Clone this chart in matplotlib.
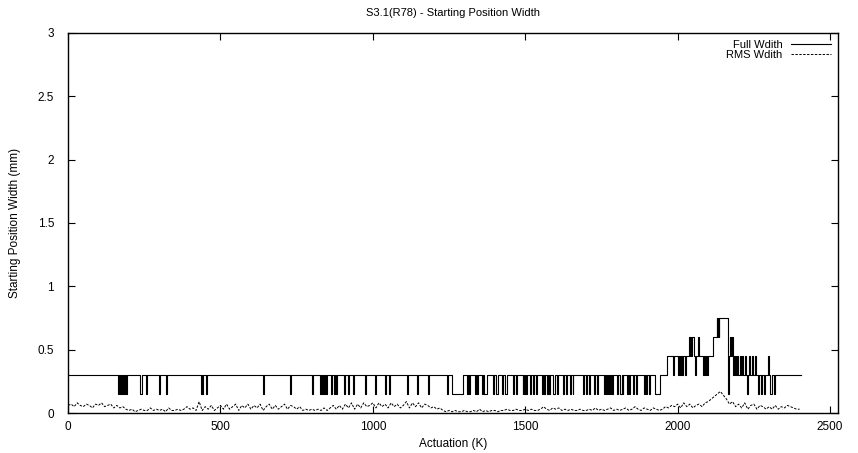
#!/usr/bin/env python

import numpy as np
import matplotlib
matplotlib.use('Agg')
import matplotlib.pyplot as plt

plt.rcParams['font.family'] = ['Liberation Sans', 'DejaVu Sans']

# Full width: value changes (actuation K, width mm), held until the next change
fw_x = [0, 164, 167, 170, 174, 177, 179, 183, 186, 190, 193,
        237, 241, 255, 259, 298, 302, 321, 325,
        436, 439, 441, 444, 451, 455,
        640, 643, 728, 731, 799, 802,
        827, 830, 833, 836, 839, 843, 847, 850,
        862, 866, 872, 875, 879, 882,
        904, 907, 920, 923, 936, 939, 974, 977,
        1007, 1010, 1040, 1043, 1054, 1057, 1112, 1115,
        1144, 1147, 1181, 1184, 1242, 1245, 1259, 1296,
        1308, 1311, 1316, 1319, 1335, 1338, 1343, 1346,
        1357, 1361, 1366, 1374, 1395, 1399, 1405, 1412,
        1423, 1427, 1434, 1439, 1460, 1463, 1469, 1472,
        1492, 1494, 1496, 1498, 1500, 1502, 1504, 1506,
        1516, 1520, 1527, 1530, 1535, 1538,
        1554, 1558, 1563, 1566, 1572, 1575, 1578, 1581,
        1592, 1596, 1604, 1608, 1625, 1628, 1633, 1636,
        1647, 1650, 1655, 1658,
        1691, 1694, 1700, 1704, 1710, 1713, 1724, 1728, 1736, 1740,
        1757, 1760, 1764, 1767, 1771, 1774, 1779, 1782, 1786, 1789,
        1800, 1804, 1812, 1816, 1819, 1822, 1833, 1837, 1841, 1844,
        1855, 1858, 1863, 1866,
        1888, 1892, 1897, 1901, 1906, 1910, 1926, 1942,
        1966, 1986, 1989, 2000, 2003, 2008, 2011, 2014, 2017, 2024, 2027,
        2036, 2039, 2042, 2045, 2048, 2052, 2056, 2059, 2068, 2071,
        2084, 2087, 2091, 2094, 2097, 2100,
        2117, 2128, 2130, 2132, 2134, 2136, 2166,
        2169, 2172, 2175, 2178, 2181, 2184, 2187,
        2190, 2193, 2196, 2199, 2205, 2208, 2212, 2215, 2220, 2223,
        2228, 2231, 2234, 2237, 2245, 2248, 2254, 2257,
        2262, 2266, 2274, 2278, 2284, 2287, 2297, 2300, 2304, 2308,
        2315, 2319, 2405]
fw_y = [0.3, 0.15, 0.3, 0.15, 0.3, 0.15, 0.3, 0.15, 0.3, 0.15, 0.3,
        0.15, 0.3, 0.15, 0.3, 0.15, 0.3, 0.15, 0.3,
        0.15, 0.3, 0.15, 0.3, 0.15, 0.3,
        0.15, 0.3, 0.15, 0.3, 0.15, 0.3,
        0.15, 0.3, 0.15, 0.3, 0.15, 0.3, 0.15, 0.3,
        0.15, 0.3, 0.15, 0.3, 0.15, 0.3,
        0.15, 0.3, 0.15, 0.3, 0.15, 0.3, 0.15, 0.3,
        0.15, 0.3, 0.15, 0.3, 0.15, 0.3, 0.15, 0.3,
        0.15, 0.3, 0.15, 0.3, 0.15, 0.3, 0.15, 0.3,
        0.15, 0.3, 0.15, 0.3, 0.15, 0.3, 0.15, 0.3,
        0.15, 0.3, 0.15, 0.3, 0.15, 0.3, 0.15, 0.3,
        0.15, 0.3, 0.15, 0.3, 0.15, 0.3, 0.15, 0.3,
        0.15, 0.3, 0.15, 0.3, 0.15, 0.3, 0.15, 0.3,
        0.15, 0.3, 0.15, 0.3, 0.15, 0.3,
        0.15, 0.3, 0.15, 0.3, 0.15, 0.3, 0.15, 0.3,
        0.15, 0.3, 0.15, 0.3, 0.15, 0.3, 0.15, 0.3,
        0.15, 0.3, 0.15, 0.3,
        0.15, 0.3, 0.15, 0.3, 0.15, 0.3, 0.15, 0.3, 0.15, 0.3,
        0.15, 0.3, 0.15, 0.3, 0.15, 0.3, 0.15, 0.3, 0.15, 0.3,
        0.15, 0.3, 0.15, 0.3, 0.15, 0.3, 0.15, 0.3, 0.15, 0.3,
        0.15, 0.3, 0.15, 0.3,
        0.15, 0.3, 0.15, 0.3, 0.15, 0.3, 0.15, 0.3,
        0.45, 0.3, 0.45, 0.3, 0.45, 0.3, 0.45, 0.3, 0.45, 0.3, 0.45,
        0.6, 0.45, 0.6, 0.45, 0.6, 0.45, 0.3, 0.45, 0.6, 0.45,
        0.3, 0.45, 0.3, 0.45, 0.3, 0.45,
        0.6, 0.75, 0.6, 0.75, 0.6, 0.75, 0.15,
        0.45, 0.6, 0.45, 0.6, 0.3, 0.45, 0.3,
        0.45, 0.3, 0.45, 0.3, 0.45, 0.3, 0.45, 0.3, 0.45, 0.3,
        0.15, 0.3, 0.45, 0.3, 0.45, 0.3, 0.45, 0.3,
        0.15, 0.3, 0.15, 0.3, 0.15, 0.3, 0.45, 0.3, 0.15, 0.3,
        0.15, 0.3, 0.3]

# RMS width, one reading every 10 K from 0 to 2400
rms_x = list(range(0, 2410, 10))
rms_y = [0.06, 0.07, 0.05, 0.08, 0.06, 0.05, 0.07, 0.06, 0.04, 0.07,
         0.06, 0.08, 0.05, 0.06, 0.07, 0.04, 0.06, 0.04, 0.05, 0.03,
         0.02, 0.03, 0.01, 0.02, 0.03, 0.02, 0.02, 0.04, 0.02, 0.03,
         0.02, 0.03, 0.01, 0.04, 0.02, 0.02, 0.03, 0.02, 0.03, 0.05,
         0.03, 0.04, 0.02, 0.09, 0.02, 0.05, 0.03, 0.06, 0.02, 0.04,
         0.06, 0.03, 0.07, 0.03, 0.05, 0.07, 0.02, 0.06, 0.04, 0.07,
         0.03, 0.06, 0.04, 0.07, 0.02, 0.05, 0.07, 0.03, 0.06, 0.03,
         0.05, 0.07, 0.03, 0.06, 0.05, 0.03, 0.05, 0.02, 0.03, 0.02,
         0.03, 0.02, 0.03, 0.02, 0.04, 0.02, 0.04, 0.06, 0.03, 0.06,
         0.03, 0.07, 0.04, 0.08, 0.03, 0.07, 0.04, 0.08, 0.05, 0.06,
         0.08, 0.04, 0.08, 0.05, 0.07, 0.04, 0.08, 0.05, 0.07, 0.04,
         0.06, 0.09, 0.04, 0.08, 0.05, 0.08, 0.04, 0.07, 0.06, 0.04,
         0.05, 0.03, 0.04, 0.02, 0.01, 0.02, 0.01, 0.02, 0.01, 0.01,
         0.02, 0.01, 0.01, 0.02, 0.01, 0.03, 0.01, 0.02, 0.01, 0.02,
         0.02, 0.01, 0.02, 0.02, 0.03, 0.02, 0.02, 0.03, 0.02, 0.02,
         0.03, 0.02, 0.03, 0.02, 0.02, 0.03, 0.05, 0.03, 0.02, 0.04,
         0.03, 0.04, 0.02, 0.03, 0.02, 0.03, 0.02, 0.02, 0.03, 0.02,
         0.02, 0.03, 0.02, 0.04, 0.02, 0.03, 0.02, 0.03, 0.04, 0.02,
         0.03, 0.02, 0.03, 0.04, 0.02, 0.03, 0.05, 0.03, 0.02, 0.04,
         0.03, 0.02, 0.04, 0.03, 0.02, 0.03, 0.05, 0.04, 0.06, 0.05,
         0.07, 0.04, 0.08, 0.05, 0.07, 0.04, 0.06, 0.07, 0.05, 0.08,
         0.09, 0.11, 0.13, 0.15, 0.17, 0.14, 0.11, 0.07, 0.09, 0.05,
         0.07, 0.04, 0.08, 0.03, 0.06, 0.07, 0.03, 0.06, 0.05, 0.03,
         0.05, 0.03, 0.06, 0.03, 0.05, 0.04, 0.06, 0.05, 0.04, 0.03,
         0.03]

x_ticks = [0, 500, 1000, 1500, 2000, 2500]
y_ticks = [0, 0.5, 1, 1.5, 2, 2.5, 3]
y_tick_labels = ['0', '0.5', '1', '1.5', '2', '2.5', '3']

fig = plt.figure(figsize=(8.58, 4.53), dpi=100)
ax = fig.add_axes([0.0793, 0.0883, 0.8974, 0.8389])

ax.step(fw_x, fw_y, where='post', color='black', lw=0.8, label='Full Wdith')
ax.plot(rms_x, rms_y, color='black', lw=0.7, dashes=(2.5, 1.5), label='RMS Wdith')

ax.set_xlim(0, 2526)
ax.set_ylim(0, 3)
ax.set_xticks(x_ticks)
ax.set_yticks(y_ticks)
ax.set_yticklabels(y_tick_labels)
ax.tick_params(direction='in', length=5, width=0.8, top=True, right=True,
               labelsize=8.5)
ax.tick_params(axis='y', pad=10)
ax.tick_params(axis='x', pad=6)
for s in ax.spines.values():
    s.set_linewidth(1.0)

ax.set_title('S3.1(R78) - Starting Position Width', fontsize=8, pad=12)
ax.set_xlabel('Actuation (K)', fontsize=8.5, labelpad=3)
ax.set_ylabel('Starting Position Width (mm)', fontsize=8.5, labelpad=12)

ax.legend(loc='upper right', frameon=False, markerfirst=False, fontsize=8,
          handlelength=3.6, handletextpad=0.8, labelspacing=0.0,
          borderaxespad=0.2)

fig.savefig('out.png', dpi=100)
